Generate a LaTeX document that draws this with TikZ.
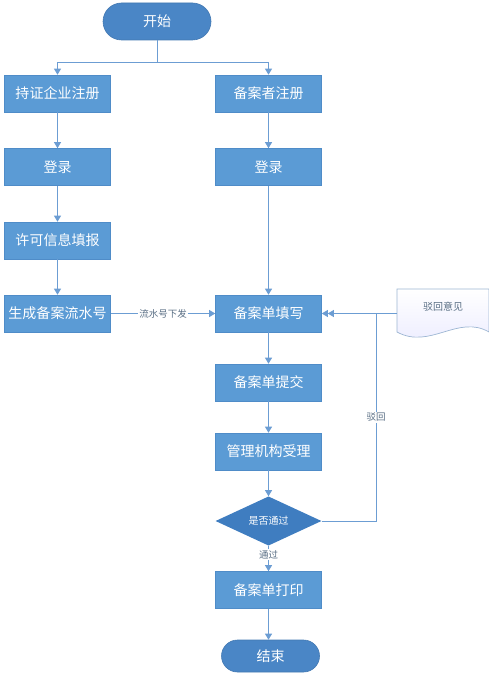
\documentclass[tikz,border=0pt]{standalone}
\usepackage{fontspec}
\newfontfamily\cjk{Noto Sans CJK SC}
\usetikzlibrary{shapes.geometric,shapes.misc,arrows.meta}
\definecolor{boxblue}{HTML}{5B9BD5}
\definecolor{boxedge}{HTML}{4F8CC8}
\definecolor{termblue}{HTML}{4A86C6}
\definecolor{diablue}{HTML}{3F7DC0}
\definecolor{linkblue}{HTML}{6C9DD3}
\definecolor{docedge}{HTML}{9DB6D3}
\definecolor{labgray}{HTML}{5A6F85}
\tikzset{
  stepbox/.style={rectangle, fill=boxblue, draw=boxedge, line width=0.6pt, minimum width=106pt, minimum height=37pt, inner sep=0pt, text=white, font=\cjk\fontsize{14}{14}\selectfont},
  termbox/.style={rounded rectangle, fill=termblue, draw=termblue!90!black, line width=0.6pt, minimum height=35pt, inner sep=0pt, text=white, font=\cjk\fontsize{14}{14}\selectfont},
  decbox/.style={diamond, fill=diablue, minimum width=106pt, minimum height=44pt, inner sep=0pt, text=white, font=\cjk\fontsize{10}{10}\selectfont},
  link/.style={draw=linkblue, line width=1pt, -{Triangle[width=7pt,length=6pt]}},
  plainlink/.style={draw=linkblue, line width=1pt},
  lab/.style={fill=white, inner sep=1pt, text=labgray, font=\cjk\fontsize{9.5}{10}\selectfont}
}
\begin{document}
\begin{tikzpicture}[x=1pt,y=-1pt]
\useasboundingbox (0,0) rectangle (489,679);
% nodes
\node[termbox, minimum width=108pt, minimum height=37pt] (start) at (157,21.5) {开始};
\node[stepbox] (lreg) at (57.5,93.5) {持证企业注册};
\node[stepbox] (rreg) at (268.5,93.5) {备案者注册};
\node[stepbox] (llog) at (57.5,167) {登录};
\node[stepbox] (rlog) at (268.5,167) {登录};
\node[stepbox] (fill) at (57.5,240.5) {许可信息填报};
\node[stepbox] (serial) at (57.5,313.5) {生成备案流水号};
\node[stepbox] (form) at (268.5,313.5) {备案单填写};
\node[stepbox] (submit) at (268.5,382.5) {备案单提交};
\node[stepbox] (accept) at (268.5,451.5) {管理机构受理};
\node[decbox] (pass) at (268.5,521) {是否通过};
\node[stepbox] (print) at (268.5,590) {备案单打印};
\node[termbox, minimum width=98pt, minimum height=32pt] (end) at (270.5,656) {结束};
% document shape
\path[draw=docedge, line width=0.7pt, top color=white, bottom color=blue!8!white]
  (397,289) -- (489,289) -- (489,332) .. controls (458,314) and (430,350) .. (397,332) -- cycle;
\node[font=\cjk\fontsize{10}{10}\selectfont, text=labgray] (doc) at (443,307) {驳回意见};
\coordinate (docw) at (397,313.5);
\coordinate (join) at (376,313.5);
\coordinate (split) at (157,63);
% connectors
\draw[plainlink] (start.south) -- (split);
\draw[link] (split) -| (lreg.north);
\draw[link] (split) -| (rreg.north);
\draw[link] (lreg) -- (llog);
\draw[link] (rreg) -- (rlog);
\draw[link] (llog) -- (fill);
\draw[link] (fill) -- (serial);
\draw[link] (rlog) -- (form);
\draw[link] (serial) -- node[lab] {流水号下发} (form);
\draw[link] (form) -- (submit);
\draw[link] (submit) -- (accept);
\draw[link] (accept) -- (pass);
\draw[link] (pass) -- node[lab, pos=0.35] {通过} (print);
\draw[link] (print.south) -- (print.south |- end.north);
\draw[plainlink] (pass.east) -| node[lab, pos=0.75] {驳回} (join);
\draw[draw=linkblue, line width=1pt, -{Triangle[width=7pt,length=6pt]Triangle[width=7pt,length=6pt]}] (docw) -- (form.east);
\end{tikzpicture}
\end{document}
